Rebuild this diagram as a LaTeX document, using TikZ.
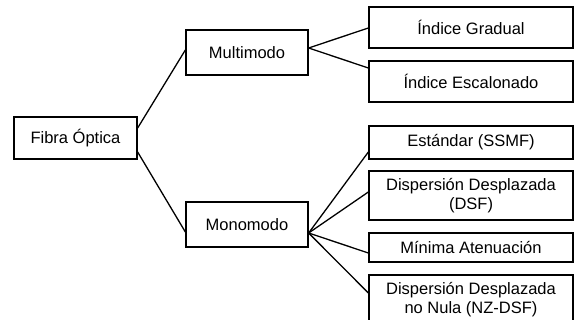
\documentclass[tikz,border=0pt]{standalone}
\usepackage{fontspec}
\setmainfont{Liberation Sans}
\begin{document}
\begin{tikzpicture}[x=1pt,y=-1pt,
  box/.style={draw=black, line width=1.3pt, fill=white, inner sep=0pt,
    align=center, font=\fontsize{16.5}{19}\selectfont},
  leaf/.style={box, minimum width=204pt},
  mid/.style={box, minimum width=122pt, minimum height=45pt},
  link/.style={draw=black, line width=1.3pt}]
\clip (0,0) rectangle (576,320);
\fill[white] (0,0) rectangle (576,320);

% root
\node[box, minimum width=123pt, minimum height=42pt] (fibra) at (75.5,138) {Fibra Óptica};

% second level
\node[mid] (multi) at (247,52.5) {Multimodo};
\node[mid] (mono) at (247,224.5) {Monomodo};

% leaves
\node[leaf, minimum height=41pt] (grad) at (471,27.5) {Índice Gradual};
\node[leaf, minimum height=41pt] (esc) at (471,81.5) {Índice Escalonado};
\node[leaf, minimum height=33pt] (std) at (471,142.5) {Estándar (SSMF)};
\node[leaf, minimum height=49pt] (dsf) at (471,195.5) {Dispersión Desplazada\\(DSF)};
\node[leaf, minimum height=29pt] (mina) at (471,247.5) {Mínima Atenuación};
\node[leaf, minimum height=49pt] (nz) at (471,299.5) {Dispersión Desplazada\\no Nula (NZ-DSF)};

% connectors
\path[link] ([yshift=10pt]fibra.east) -- ([yshift=2.5pt]multi.west);
\path[link] ([yshift=-14pt]fibra.east) -- ([yshift=-7.5pt]mono.west);

\path[link] ([yshift=4.5pt]multi.east) -- ([yshift=-0.5pt]grad.west);
\path[link] ([yshift=4.5pt]multi.east) -- ([yshift=13.5pt]esc.west);

\path[link] ([yshift=-8.5pt]mono.east) -- ([yshift=-9.5pt]std.west);
\path[link] ([yshift=-8.5pt]mono.east) -- ([yshift=3.5pt]dsf.west);
\path[link] ([yshift=-8.5pt]mono.east) -- ([yshift=-5.5pt]mina.west);
\path[link] ([yshift=-8.5pt]mono.east) -- ([yshift=6.5pt]nz.west);
\end{tikzpicture}
\end{document}
